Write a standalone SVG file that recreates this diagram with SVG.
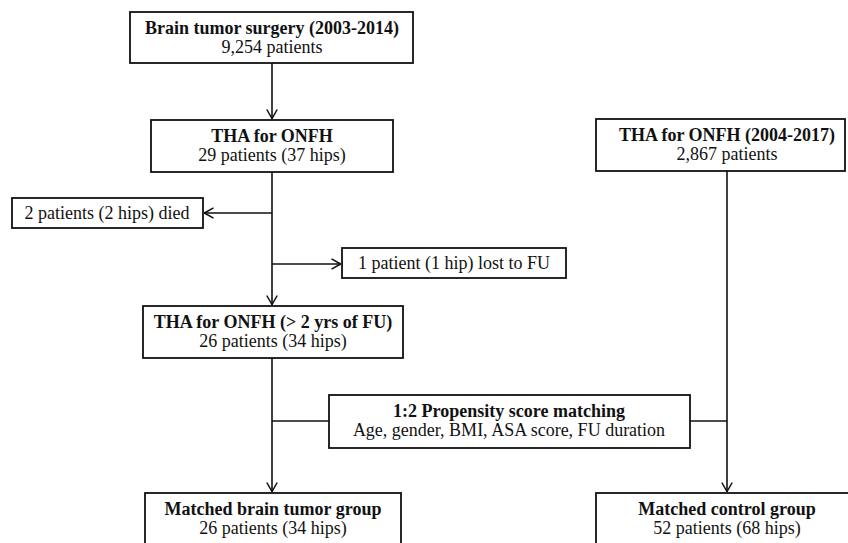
<svg xmlns="http://www.w3.org/2000/svg" width="848" height="543" viewBox="0 0 848 543">
<defs>
<marker id="arr" viewBox="0 0 10 12" refX="10" refY="6" markerWidth="10" markerHeight="12" markerUnits="userSpaceOnUse" orient="auto">
<path d="M0.5,0.8 L9.6,6 L0.5,11.2" fill="none" stroke="#111" stroke-width="1.5"/>
</marker>
<style>
.box{fill:#fff;stroke:#111;stroke-width:1.8}
.ln{fill:none;stroke:#111;stroke-width:1.6}
text{font-family:"Liberation Serif","Times New Roman",serif;font-size:18px;fill:#111;text-anchor:middle}
.b{font-weight:bold}
</style>
</defs>
<rect width="848" height="543" fill="#fff"/>
<g id="connectors">
<line class="ln" x1="272" y1="63" x2="272" y2="119" marker-end="url(#arr)"/>
<line class="ln" x1="272" y1="172" x2="272" y2="305" marker-end="url(#arr)"/>
<line class="ln" x1="272" y1="213" x2="204" y2="213" marker-end="url(#arr)"/>
<line class="ln" x1="272" y1="264" x2="341" y2="264" marker-end="url(#arr)"/>
<line class="ln" x1="272" y1="358" x2="272" y2="492" marker-end="url(#arr)"/>
<line class="ln" x1="272" y1="421" x2="329" y2="421"/>
<line class="ln" x1="727" y1="171" x2="727" y2="492" marker-end="url(#arr)"/>
<line class="ln" x1="690" y1="421" x2="727" y2="421"/>
</g>
<g id="n1">
<rect class="box" x="130" y="12" width="283" height="51"/>
<text class="b" x="272" y="34">Brain tumor surgery (2003-2014)</text>
<text x="272" y="53">9,254 patients</text>
</g>
<g id="n2">
<rect class="box" x="151" y="120" width="242" height="52"/>
<text class="b" x="272" y="142">THA for ONFH</text>
<text x="272" y="161">29 patients (37 hips)</text>
</g>
<g id="n3">
<rect class="box" x="12" y="198" width="191" height="30"/>
<text x="107" y="219">2 patients (2 hips) died</text>
</g>
<g id="n4">
<rect class="box" x="342" y="248" width="224" height="30"/>
<text x="454" y="269">1 patient (1 hip) lost to FU</text>
</g>
<g id="n5">
<rect class="box" x="143" y="306" width="260" height="52"/>
<text class="b" x="273" y="328">THA for ONFH (&gt; 2 yrs of FU)</text>
<text x="273" y="347">26 patients (34 hips)</text>
</g>
<g id="n6">
<rect class="box" x="596" y="119" width="249" height="52"/>
<text class="b" x="727" y="141">THA for ONFH (2004-2017)</text>
<text x="727" y="160">2,867 patients</text>
</g>
<g id="n7">
<rect class="box" x="329" y="395" width="361" height="53"/>
<text class="b" x="509" y="417">1:2 Propensity score matching</text>
<text x="509" y="436">Age, gender, BMI, ASA score, FU duration</text>
</g>
<g id="n8">
<rect class="box" x="145" y="493" width="256" height="60"/>
<text class="b" x="273" y="515">Matched brain tumor group</text>
<text x="273" y="534">26 patients (34 hips)</text>
</g>
<g id="n9">
<rect class="box" x="596" y="493" width="270" height="60"/>
<text class="b" x="727" y="515">Matched control group</text>
<text x="727" y="534">52 patients (68 hips)</text>
</g>
</svg>
